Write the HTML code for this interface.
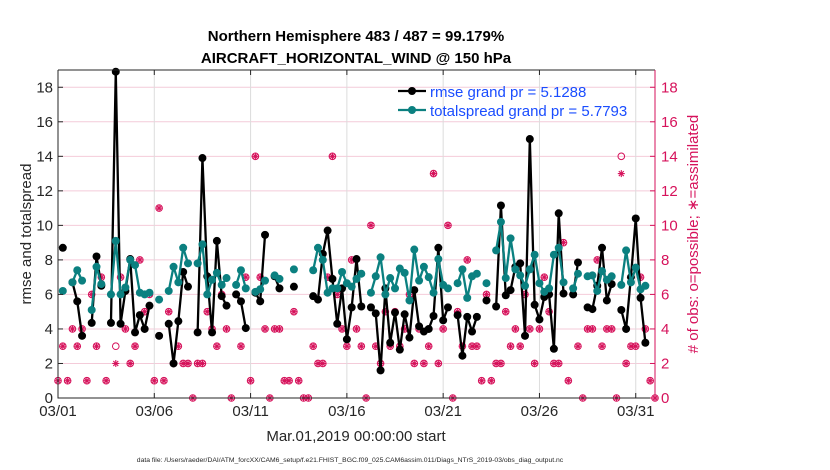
<!DOCTYPE html>
<html><head><meta charset="utf-8"><style>
body{margin:0;background:#fff;}
svg{display:block;font-family:"Liberation Sans",Arial,sans-serif;}
</style></head><body>
<svg id="chart" width="830" height="470" xmlns="http://www.w3.org/2000/svg">
<rect x="0" y="0" width="830" height="470" fill="#fff"/>
<g id="grid"></g>
<g id="marks"></g>
<g id="axes"></g>
<text x="356" y="41" text-anchor="middle" font-size="15" font-weight="bold">Northern Hemisphere 483 / 487 = 99.179%</text>
<text x="356" y="63" text-anchor="middle" font-size="15" font-weight="bold">AIRCRAFT_HORIZONTAL_WIND @ 150 hPa</text>
<text transform="translate(31,234) rotate(-90)" text-anchor="middle" font-size="15" fill="#262626">rmse and totalspread</text>
<text transform="translate(698,234) rotate(-90)" text-anchor="middle" font-size="15" fill="#d6125b"># of obs: o=possible; ∗=assimilated</text>
<text x="356" y="441" text-anchor="middle" font-size="15" fill="#262626">Mar.01,2019 00:00:00 start</text>
<text x="350" y="462" text-anchor="middle" font-size="6.8" fill="#262626">data file: /Users/raeder/DAI/ATM_forcXX/CAM6_setup/f.e21.FHIST_BGC.f09_025.CAM6assim.011/Diags_NTrS_2019-03/obs_diag_output.nc</text>
<g>
<g>
<line x1="398" y1="91" x2="426" y2="91" stroke="#000" stroke-width="2.3"/>
<circle cx="412" cy="91" r="4" fill="#000"/>
<text x="430" y="97" font-size="15" fill="#1a4dff">rmse grand pr = 5.1288</text>
</g>
<g>
<line x1="398" y1="110" x2="426" y2="110" stroke="#0b8080" stroke-width="2.3"/>
<circle cx="412" cy="110" r="4" fill="#0b8080"/>
<text x="430" y="116" font-size="15" fill="#1a4dff">totalspread grand pr = 5.7793</text>
</g>
</g>
</svg>
<script>
const N = null;
const rmse = [N,8.7,N,6.7,5.6,3.6,N,4.35,8.2,6.5,N,4.35,18.9,4.3,6.2,8.05,3.8,4.8,4.0,5.35,
N,3.6,N,4.3,2.0,4.45,7.3,6.45,N,3.8,13.9,7.05,3.8,9.1,5.9,5.35,N,6.0,5.6,4.05,
N,6.1,5.6,9.45,N,7.05,6.35,N,N,6.45,N,N,N,5.9,5.7,8.35,9.7,6.9,4.3,6.35,
3.4,5.25,8.05,5.3,N,5.25,4.9,1.6,6.35,3.2,4.95,2.8,4.85,3.5,6.25,4.15,3.85,4.0,4.75,8.7,
4.5,5.25,N,4.8,2.45,4.7,3.85,4.7,N,5.65,N,5.3,11.15,5.95,6.25,7.6,7.8,3.6,15.0,5.4,
4.55,5.85,6.0,2.85,10.7,6.05,N,6.0,7.85,N,5.25,5.15,6.5,8.7,5.65,6.6,N,5.1,4.0,7.0,
10.4,5.8,3.2,N,N];
const spread = [N,6.2,N,6.7,7.4,6.8,N,5.1,7.6,6.6,N,6.0,9.1,6.0,6.4,8.0,7.7,6.1,6.0,6.1,
N,5.7,N,6.2,7.6,6.7,8.7,7.8,N,7.8,8.9,6.0,6.85,7.25,6.55,6.95,N,6.55,7.4,6.35,
N,6.15,6.3,6.8,N,7.1,6.9,N,N,7.45,N,N,N,7.4,8.7,8.0,6.1,6.35,6.35,7.3,
6.65,6.45,6.9,7.2,N,6.1,7.05,8.15,6.0,6.95,6.35,7.5,7.25,5.65,8.6,6.8,7.6,7.0,6.1,8.05,
6.55,6.35,N,6.65,7.45,5.8,7.05,7.2,N,6.65,N,8.55,10.2,6.95,9.25,7.45,7.1,6.5,7.45,8.3,
6.65,6.15,6.35,8.3,8.7,6.7,N,6.35,7.2,N,7.05,7.1,6.2,7.35,6.85,7.05,N,6.55,8.55,6.7,
7.55,6.3,6.5,N,N];
const possible = [1,3,1,4,3,4,1,6,3,7,1,6,3,7,4,2,3,8,5,6,
1,11,1,5,2,3,2,2,0,2,2,5,4,3,6,4,0,6,3,7,
1,14,7,4,0,4,4,1,1,5,1,0,0,3,2,2,7,14,6,4,
3,8,4,3,0,10,3,2,5,3,5,3,4,6,2,4,2,3,13,2,
4,10,0,5,3,8,3,3,1,6,1,2,2,5,3,4,3,6,4,2,
4,7,5,2,2,9,1,6,3,0,4,4,8,3,4,4,0,14,2,3,
3,7,4,1,0];
const assimilated = [1,3,1,4,3,4,1,6,3,7,1,6,2,7,4,2,3,8,5,6,
1,11,1,5,2,3,2,2,0,2,2,5,4,3,6,4,0,6,3,7,
1,14,7,4,0,4,4,1,1,5,1,0,0,3,2,2,7,14,6,4,
3,8,4,3,0,10,3,2,5,3,5,3,4,6,2,4,2,3,13,2,
4,10,0,5,3,8,3,3,1,6,1,2,2,5,3,4,3,6,4,2,
4,7,5,2,2,9,1,6,3,0,4,4,8,3,4,4,0,13,2,3,
3,7,4,1,0];
const yTicks = [0,2,4,6,8,10,12,14,16,18];
const xTickDays = [0,5,10,15,20,25,30];
const xTickLabels = ["03/01","03/06","03/11","03/16","03/21","03/26","03/31"];

const NS = "http://www.w3.org/2000/svg";
const L = 58, R = 655, T = 70, B = 398;
const X_MAX_DAYS = 31, Y_MAX = 19;
function xScale(i){ return L + (i/4) * (R - L) / X_MAX_DAYS; }
function xDay(d){ return L + d * (R - L) / X_MAX_DAYS; }
function yScale(v){ return B - v * (B - T) / Y_MAX; }
function mk(tag, attrs, parent){ const e = document.createElementNS(NS, tag); for (const k in attrs) e.setAttribute(k, attrs[k]); parent.appendChild(e); return e; }

const grid = document.getElementById('grid');
const marks = document.getElementById('marks');
const axes = document.getElementById('axes');

yTicks.forEach(v => {
  const g = mk('line', {x1:L, x2:R, y1:yScale(v), y2:yScale(v), stroke:'#f4cbd9', 'stroke-width':1}, grid);
  
  
});
xTickDays.forEach(d => {
  const g = mk('line', {x1:xDay(d), x2:xDay(d), y1:T, y2:B, stroke:'#dcdcdc', 'stroke-width':1}, grid);
  
  
});

function countMarker(i, v, kind){
  const cx = xScale(i), cy = yScale(v), c = '#d6125b';
  const g = mk('g', {}, marks);
  
  
  if (kind === 'o') mk('circle', {cx:cx, cy:cy, r:3.3, fill:'none', stroke:c, 'stroke-width':1}, g);
  else {
    for (let a = 0; a < 180; a += 45) {
      const r = a * Math.PI / 180, dx = 3.5 * Math.cos(r), dy = 3.5 * Math.sin(r);
      mk('line', {x1:cx-dx, y1:cy-dy, x2:cx+dx, y2:cy+dy, stroke:c, 'stroke-width':1.1}, g);
    }
  }
}
possible.forEach((v, i) => { if (v !== null) countMarker(i, v, 'o'); });
assimilated.forEach((v, i) => { if (v !== null) countMarker(i, v, '*'); });

function series(vals, color, name){
  let seg = [];
  const segs = [];
  vals.forEach((v, i) => { if (v === null) { if (seg.length) segs.push(seg); seg = []; } else seg.push([xScale(i), yScale(v)]); });
  if (seg.length) segs.push(seg);
  segs.forEach(s => {
    if (s.length > 1) {
      const p = mk('polyline', {points:s.map(q => q.join(',')).join(' '), fill:'none', stroke:color, 'stroke-width':2.3, 'stroke-linejoin':'round'}, marks);
      
      
    }
  });
  vals.forEach((v, i) => {
    if (v === null) return;
    const c = mk('circle', {cx:xScale(i), cy:yScale(v), r:4, fill:color}, marks);
    
    
  });
}
series(rmse, '#000000', 'rmse');
series(spread, '#0b8080', 'totalspread');

const box = mk('path', {d:`M${L},${T} H${R} M${L},${T} V${B} H${R}`, fill:'none', stroke:'#262626', 'stroke-width':1}, axes);


const rax = mk('line', {x1:R, x2:R, y1:T, y2:B, stroke:'#d6125b', 'stroke-width':1}, axes);


yTicks.forEach(v => {
  const y = yScale(v);
  mk('line', {x1:L, x2:L+5, y1:y, y2:y, stroke:'#262626'}, axes);
  mk('line', {x1:R-5, x2:R, y1:y, y2:y, stroke:'#d6125b'}, axes);
  const t = mk('text', {x:L-5, y:y+5, 'text-anchor':'end', 'font-size':15, fill:'#262626'}, axes);
  t.textContent = v;
  
  
  const t2 = mk('text', {x:R+6, y:y+5, 'text-anchor':'start', 'font-size':15, fill:'#d6125b'}, axes);
  t2.textContent = v;
  
  
});
xTickDays.forEach((d, k) => {
  const x = xDay(d);
  mk('line', {x1:x, x2:x, y1:B, y2:B-5, stroke:'#262626'}, axes);
  mk('line', {x1:x, x2:x, y1:T, y2:T+5, stroke:'#262626'}, axes);
  const t = mk('text', {x:x, y:B+18, 'text-anchor':'middle', 'font-size':15, fill:'#262626'}, axes);
  t.textContent = xTickLabels[k];
  
  
});
</script>
</body></html>
